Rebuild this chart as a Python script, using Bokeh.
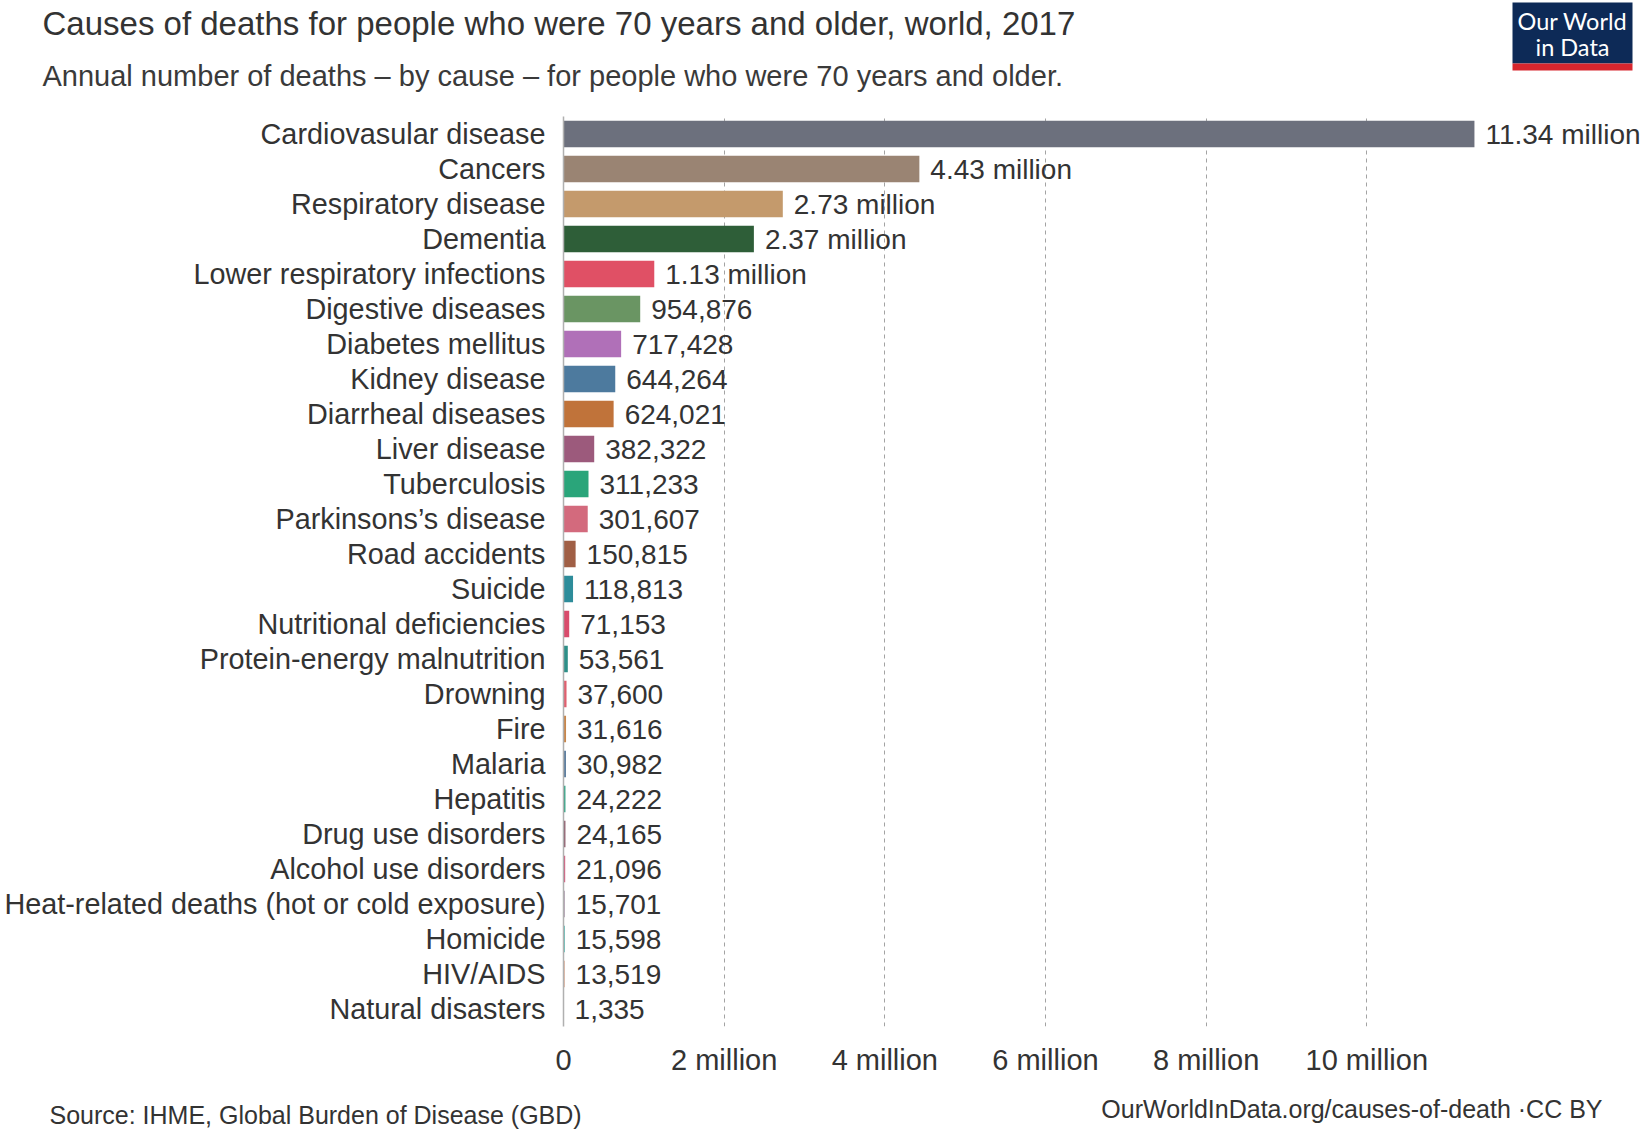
from bokeh.plotting import figure
from bokeh.layouts import column
from bokeh.models import ColumnDataSource, FactorRange, Range1d, FixedTicker
from bokeh.core.properties import value
from bokeh.embed import file_html
from bokeh.resources import INLINE

# ---------------- data ----------------
categories = [
    "Cardiovasular disease", "Cancers", "Respiratory disease", "Dementia",
    "Lower respiratory infections", "Digestive diseases", "Diabetes mellitus",
    "Kidney disease", "Diarrheal diseases", "Liver disease", "Tuberculosis",
    "Parkinsons\u2019s disease", "Road accidents", "Suicide", "Nutritional deficiencies",
    "Protein-energy malnutrition", "Drowning", "Fire", "Malaria", "Hepatitis",
    "Drug use disorders", "Alcohol use disorders",
    "Heat-related deaths (hot or cold exposure)", "Homicide", "HIV/AIDS",
    "Natural disasters",
]
deaths = [
    11340000, 4430000, 2730000, 2370000, 1130000, 954876, 717428, 644264,
    624021, 382322, 311233, 301607, 150815, 118813, 71153, 53561, 37600,
    31616, 30982, 24222, 24165, 21096, 15701, 15598, 13519, 1335,
]
bar_colors = [
    "#6c707d", "#9a8473", "#c49a6c", "#2e5e38", "#e05065", "#6a9563",
    "#b070b8", "#4d7a9e", "#c0733a", "#9c5a7c", "#2aa57a", "#d36a7d",
    "#a05f45", "#2d8c9a", "#d94c6c", "#2e8f88", "#e0606f", "#c8864a",
    "#5f7f9f", "#2ea484", "#8e5a6a", "#d65a7e", "#a68fa5", "#3cb0a8",
    "#d8906a", "#b0b0b0",
]
tick_values = [0, 2000000, 4000000, 6000000, 8000000, 10000000]
tick_labels = ["0", "2 million", "4 million", "6 million", "8 million", "10 million"]
grid_values = [2000000, 4000000, 6000000, 8000000, 10000000]

title_text = "Causes of deaths for people who were 70 years and older, world, 2017"
subtitle_text = "Annual number of deaths \u2013 by cause \u2013 for people who were 70 years and older."
source_text = "Source: IHME, Global Burden of Disease (GBD)"
url_text = "OurWorldInData.org/causes-of-death \u00b7CC BY"
logo_lines = ["Our World", "in Data"]


def fmt(v):
    return f"{v / 1e6:.2f} million" if v >= 1e6 else f"{v:,}"


value_labels = [fmt(v) for v in deaths]

# ---------------- layout constants (px) ----------------
W = 1642
HEAD_H = 100
MAIN_H = 982
FOOT_H = 47
FL = 563           # frame left of main chart
BT = 16            # main border top  -> frame top at 116
FRAME_H = 910      # 26 rows x 35 px
BB = MAIN_H - BT - FRAME_H
FONT = "Liberation Sans"
TXT = "#333333"


def blank(h):
    f = figure(width=W, height=h, x_range=Range1d(0, W), y_range=Range1d(h, 0),
               x_axis_type=None, y_axis_type=None, output_backend="svg",
               toolbar_location=None, min_border=0)
    f.min_border_left = f.min_border_right = f.min_border_top = f.min_border_bottom = 0
    f.frame_align = False
    f.outline_line_color = None
    f.background_fill_color = "white"
    f.border_fill_color = "white"
    return f


# ---------------- header ----------------
head = blank(HEAD_H)
head.text(x=[42], y=[23], text=[title_text], text_font=value(FONT), text_font_size="33px",
          text_color=TXT, text_baseline="middle")
head.text(x=[42], y=[75.5], text=[subtitle_text], text_font=value(FONT), text_font_size="29px",
          text_color="#3a3a3a", text_baseline="middle")
head.quad(left=[1512], right=[1632], top=[2], bottom=[63], fill_color="#0d2a57", line_color=None)
head.quad(left=[1512], right=[1632], top=[63], bottom=[70], fill_color="#d7262e", line_color=None)
head.text(x=[1572, 1572], y=[20, 46], text=logo_lines, text_font=value("Lato"),
          text_font_size="23.5px", text_color="white", text_align="center",
          text_baseline="middle")

# ---------------- main chart ----------------
src = ColumnDataSource(dict(cat=categories, value=deaths, color=bar_colors, label=value_labels))

x_end = (W - FL) / 80.33 * 1e6
p = figure(
    width=W, height=MAIN_H,
    y_range=FactorRange(factors=categories[::-1]),
    x_range=Range1d(0, x_end),
    output_backend="svg", toolbar_location=None,
    min_border_left=FL, min_border_right=0,
    min_border_top=BT, min_border_bottom=BB,
)
p.frame_align = False
p.outline_line_color = None
p.background_fill_color = "white"
p.border_fill_color = "white"

p.hbar(y="cat", left=0, right="value", height=0.76, color="color", line_color=None, source=src)
p.text(x="value", y="cat", text="label", x_offset=11, text_baseline="middle",
       text_font=value(FONT), text_font_size="28px", text_color=TXT, source=src)

p.xaxis.ticker = FixedTicker(ticks=tick_values)
p.xaxis.major_label_overrides = {t: l for t, l in zip(tick_values, tick_labels)}
p.xaxis.axis_line_color = None
p.xaxis.major_tick_line_color = None
p.xaxis.minor_tick_line_color = None
p.xaxis.major_tick_out = 0
p.xaxis.major_label_standoff = 17
p.xaxis.major_label_text_font = FONT
p.xaxis.major_label_text_font_size = "29px"
p.xaxis.major_label_text_color = TXT

p.yaxis.axis_line_color = "#b0b0b0"
p.yaxis.axis_line_width = 1.5
p.yaxis.major_tick_line_color = None
p.yaxis.major_tick_out = 0
p.yaxis.major_label_standoff = 18
p.yaxis.major_label_text_font = FONT
p.yaxis.major_label_text_font_size = "28.8px"
p.yaxis.major_label_text_color = TXT

p.ygrid.grid_line_color = None
p.xgrid.ticker = FixedTicker(ticks=grid_values)
p.xgrid.grid_line_color = "#a3a3a3"
p.xgrid.grid_line_dash = "4 4"
p.xgrid.grid_line_width = 1

# ---------------- footer ----------------
foot = blank(FOOT_H)
y0 = HEAD_H + MAIN_H
foot.text(x=[49], y=[1114 - y0], text=[source_text], text_font=value(FONT), text_font_size="25px",
          text_color=TXT, text_baseline="middle")
foot.text(x=[1602], y=[1108 - y0], text=[url_text], text_font=value(FONT), text_font_size="25px",
          text_color=TXT, text_align="right", text_baseline="middle")

layout = column(head, p, foot, spacing=0)
open("out.html", "w").write(file_html(layout, INLINE))
